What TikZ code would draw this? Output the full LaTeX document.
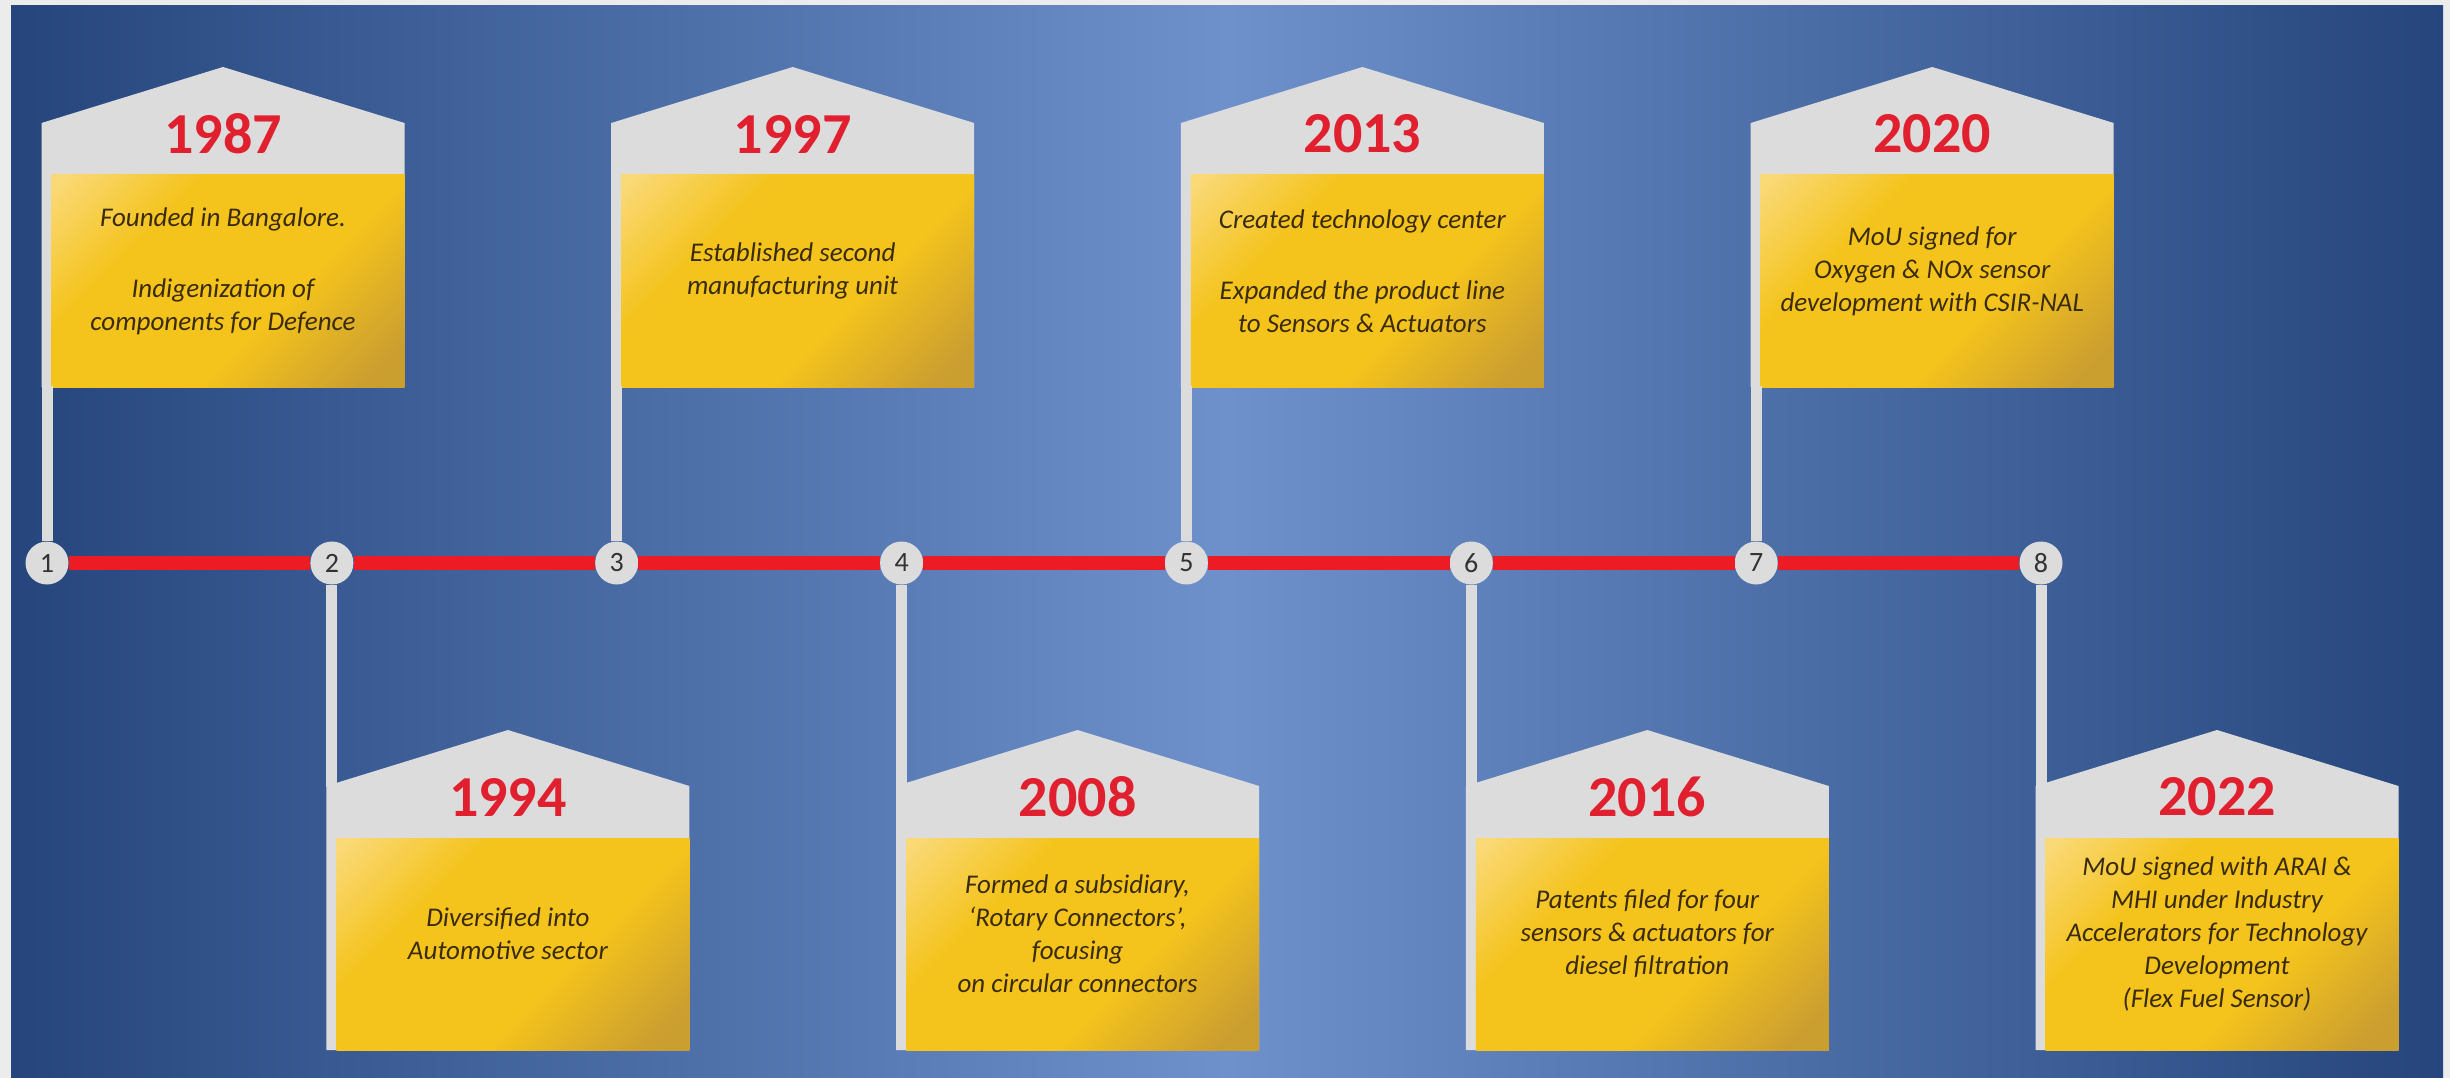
\documentclass[tikz,border=0pt]{standalone}
\usepackage{fontspec}
\setmainfont{Carlito}
\definecolor{bgdark}{HTML}{25457C}
\definecolor{bglight}{HTML}{6E91CC}
\definecolor{framegrey}{HTML}{ECECEC}
\definecolor{cardgrey}{HTML}{DCDCDC}
\definecolor{tlred}{HTML}{ED1C24}
\definecolor{yeartxt}{HTML}{E0202E}
\definecolor{gmain}{HTML}{F4C31C}
\definecolor{glight}{HTML}{FAD977}
\definecolor{gdark}{HTML}{CB9E30}
\definecolor{bodytxt}{HTML}{3A2C0A}
\definecolor{numtxt}{HTML}{333333}
\pgfdeclareverticalshading{goldshade}{100bp}{color(0bp)=(gdark); color(20bp)=(gdark); color(40bp)=(gmain); color(66bp)=(gmain); color(84bp)=(glight); color(100bp)=(glight)}
\tikzset{
  yearstyle/.style={font=\bfseries\fontsize{58}{62}\selectfont, text=yeartxt, inner sep=0pt},
  bodystyle/.style={font=\itshape\fontsize{27}{33}\selectfont, text=bodytxt, align=center, inner sep=0pt},
  tlnode/.style={circle, fill=cardgrey, minimum size=43pt, inner sep=0pt, font=\fontsize{28}{28}\selectfont, text=numtxt},
  redline/.style={draw=tlred, line width=14pt},
  pole/.style={draw=cardgrey, line width=11pt},
}
% #1 left x, #2 apex y, #3 year, #4 text, #5 name
\newcommand{\tlcard}[5]{%
  \fill[cardgrey] (#1,#2+56) -- (#1+181.5,#2) -- (#1+363,#2+56) -- (#1+363,#2+320) -- (#1,#2+320) -- cycle;
  \shade[shading=goldshade, shading angle=45] (#1+10,#2+108) rectangle (#1+363,#2+320);
  \node[yearstyle] (#5y) at (#1+181.5,#2+67) {#3};
  \node[bodystyle] (#5t) at (#1+181.5,#2+204) {#4};
}
\begin{document}
\begin{tikzpicture}[x=1pt,y=-1pt]
\fill[framegrey] (0,0) rectangle (2450,1078);
\shade[left color=bgdark, right color=bgdark, middle color=bglight] (11,6) rectangle (2443,1078);
\useasboundingbox (0,0) rectangle (2450,1078);

% cards
\tlcard{41.5}{67}{1987}{Founded in Bangalore.\\[38pt]Indigenization of\\components for Defence}{k1}
\tlcard{326.4}{730}{1994}{Diversified into\\Automotive sector}{k2}
\tlcard{611.2}{67}{1997}{Established second\\manufacturing unit}{k3}
\tlcard{896.1}{730}{2008}{Formed a subsidiary,\\‘Rotary Connectors’,\\focusing\\on circular connectors}{k4}
\tlcard{1180.9}{67}{2013}{Created technology center\\[38pt]Expanded the product line\\to Sensors \& Actuators}{k5}
\tlcard{1465.8}{730}{2016}{Patents filed for four\\sensors \& actuators for\\diesel filtration}{k6}
\tlcard{1750.7}{67}{2020}{MoU signed for\\Oxygen \& NOx sensor\\development with CSIR-NAL}{k7}
\tlcard{2035.5}{730}{2022}{MoU signed with ARAI \&\\MHI under Industry\\Accelerators for Technology\\Development\\(Flex Fuel Sensor)}{k8}

% timeline nodes
\node[tlnode] (n1) at (47,563) {1};
\node[tlnode] (n2) at (331.9,563) {2};
\node[tlnode] (n3) at (616.7,563) {3};
\node[tlnode] (n4) at (901.6,563) {4};
\node[tlnode] (n5) at (1186.4,563) {5};
\node[tlnode] (n6) at (1471.3,563) {6};
\node[tlnode] (n7) at (1756.2,563) {7};
\node[tlnode] (n8) at (2041,563) {8};

% card attach points
\coordinate (c1) at (47,386);
\coordinate (c2) at (331.9,787);
\coordinate (c3) at (616.7,386);
\coordinate (c4) at (901.6,787);
\coordinate (c5) at (1186.4,386);
\coordinate (c6) at (1471.3,787);
\coordinate (c7) at (1756.2,386);
\coordinate (c8) at (2041,787);

% red timeline
\draw[redline] (n1) -- (n2);
\draw[redline] (n2) -- (n3);
\draw[redline] (n3) -- (n4);
\draw[redline] (n4) -- (n5);
\draw[redline] (n5) -- (n6);
\draw[redline] (n6) -- (n7);
\draw[redline] (n7) -- (n8);

% poles
\draw[pole] (n1) -- (c1);
\draw[pole] (n2) -- (c2);
\draw[pole] (n3) -- (c3);
\draw[pole] (n4) -- (c4);
\draw[pole] (n5) -- (c5);
\draw[pole] (n6) -- (c6);
\draw[pole] (n7) -- (c7);
\draw[pole] (n8) -- (c8);
\end{tikzpicture}
\end{document}
